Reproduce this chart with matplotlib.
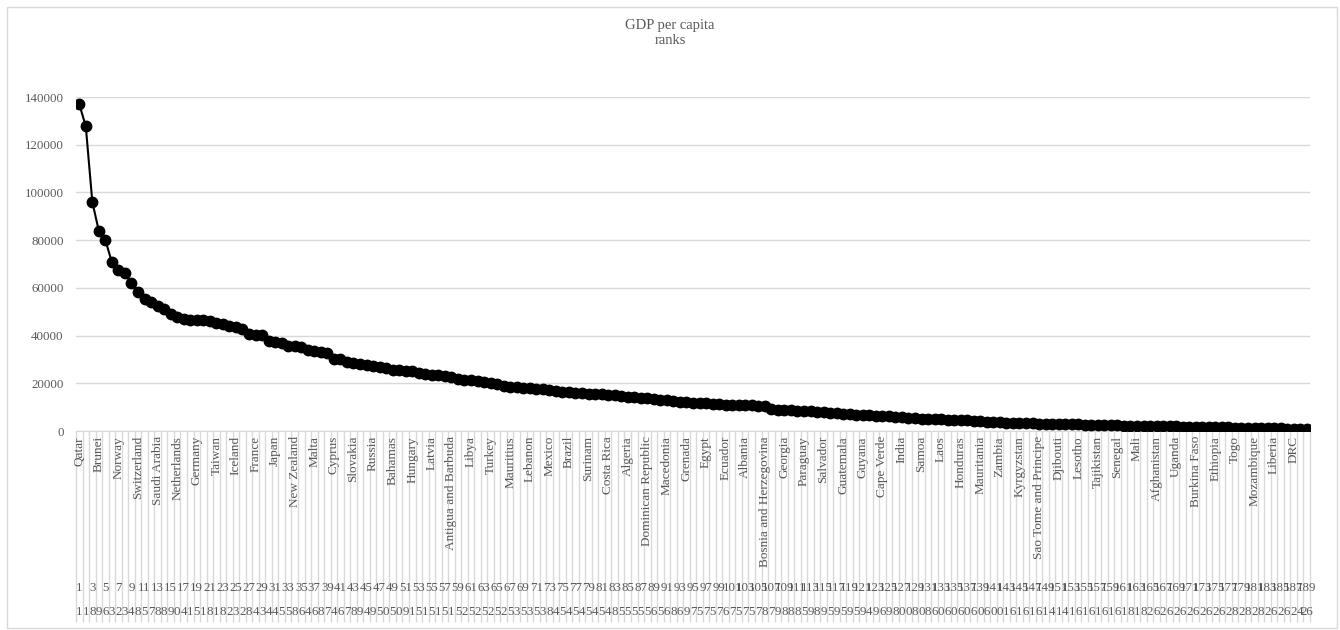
import matplotlib.pyplot as plt
import matplotlib.transforms as mtransforms
from matplotlib.patches import Rectangle

plt.rcParams['font.family'] = ['Liberation Serif', 'DejaVu Serif']

# GDP per capita, ordered by rank (1 = highest)
gdp = [137000, 127700, 96000, 83800, 80000, 70700, 67500, 66400, 61900, 58400,
       55200, 54200, 52400, 51300, 49100, 47900, 46900, 46600, 46500, 46500,
       46300, 45200, 44800, 44100, 43500, 42700, 40600, 40300, 40200, 37600,
       37300, 37000, 35800, 35500, 35300, 34100, 33400, 33200, 32900, 30300,
       30000, 29000, 28500, 28100, 27800, 27300, 26700, 26300, 25600, 25400,
       25300, 25200, 24500, 23900, 23600, 23400, 23100, 22700, 22000, 21500,
       21300, 21000, 20400, 20000, 19500, 18700, 18500, 18300, 18200, 18000,
       17700, 17400, 17100, 16700, 16500, 16300, 16100, 15900, 15700, 15500,
       15400, 15200, 14900, 14600, 14300, 14100, 13900, 13700, 13400, 13200,
       13000, 12600, 12300, 12100, 11900, 11800, 11600, 11400, 11200, 11100,
       11000, 10900, 10800, 10700, 10600, 10400, 9300, 9000, 8900, 8700,
       8500, 8300, 8200, 8000, 7900, 7700, 7500, 7300, 7100, 6900,
       6800, 6600, 6400, 6200, 6100, 5900, 5800, 5600, 5400, 5200,
       5100, 5000, 4900, 4800, 4700, 4600, 4500, 4300, 4100, 3900,
       3700, 3600, 3500, 3400, 3300, 3200, 3150, 3100, 3000, 2950,
       2900, 2850, 2800, 2750, 2700, 2600, 2500, 2450, 2400, 2350,
       2300, 2250, 2200, 2150, 2100, 2050, 2000, 1950, 1900, 1850,
       1800, 1750, 1700, 1650, 1600, 1550, 1500, 1450, 1400, 1350,
       1300, 1250, 1200, 1150, 1100, 1000, 950, 850, 750]
ranks = list(range(1, len(gdp) + 1))

# country names shown on the axis (every third rank: 1, 4, 7, ...)
countries = ['Qatar', 'Brunei', 'Norway', 'Switzerland', 'Saudi Arabia',
             'Netherlands', 'Germany', 'Taiwan', 'Iceland', 'France', 'Japan',
             'New Zealand', 'Malta', 'Cyprus', 'Slovakia', 'Russia', 'Bahamas',
             'Hungary', 'Latvia', 'Antigua and Barbuda', 'Libya', 'Turkey',
             'Mauritius', 'Lebanon', 'Mexico', 'Brazil', 'Surinam', 'Costa Rica',
             'Algeria', 'Dominican Republic', 'Macedonia', 'Grenada', 'Egypt',
             'Ecuador', 'Albania', 'Bosnia and Herzegovina', 'Georgia',
             'Paraguay', 'Salvador', 'Guatemala', 'Guyana', 'Cape Verde', 'India',
             'Samoa', 'Laos', 'Honduras', 'Mauritania', 'Zambia', 'Kyrgyzstan',
             'Sao Tome and Principe', 'Djibouti', 'Lesotho', 'Tajikistan',
             'Senegal', 'Mali', 'Afghanistan', 'Uganda', 'Burkina Faso',
             'Ethiopia', 'Togo', 'Mozambique', 'Liberia', 'DRC']

# outer category level, one label per rank
outer_digits = ("1189632348" "5788904151" "8182328434" "4558646874" "678949"
                "5050915151" "5152525252" "5353538454" "5454548555" "55"
                "6568697575" "7675757879" "8885989595" "9594969800" "808"
                "6060606060" "0161616141" "4161616161" "8182626262" "6262628282"
                "8262624")
outer_labels = list(outer_digits) + ['26']

W, H = 1340, 630
fig = plt.figure(figsize=(W / 100, H / 100), dpi=100)
fig.patches.append(Rectangle((7 / W, 2 / H), 1330 / W, 621 / H, transform=fig.transFigure,
                             fill=False, edgecolor='#d9d9d9', linewidth=1))

x0, x1, y0, y1 = 76, 1310, 431, 97
ax = fig.add_axes([x0 / W, 1 - y0 / H, (x1 - x0) / W, (y0 - y1) / H])

ax.plot(ranks, gdp, color='black', linewidth=1.5, marker='o', markersize=7.5, zorder=3)

ax.set_xlim(0.5, len(ranks) + 0.5)
ax.set_ylim(0, 140000)
ax.set_yticks(range(0, 140001, 20000))
ax.tick_params(axis='y', length=0, pad=9, labelsize=9.3, labelcolor='#595959')
ax.set_xticks([])
ax.grid(axis='y', color='#d9d9d9', linewidth=1)
ax.set_axisbelow(True)
for s in ['left', 'right', 'top']:
    ax.spines[s].set_visible(False)
ax.spines['bottom'].set_color('#d9d9d9')

fig.text(0.5, 1 - 33 / H, 'GDP per capita\nranks', ha='center', va='center',
         fontsize=10.5, color='#595959', linespacing=1.15)

trans = mtransforms.blended_transform_factory(ax.transData, fig.transFigure)

# category separators below the axis
ax.vlines([r - 0.5 for r in ranks] + [len(ranks) + 0.5], 1 - 431 / H, 1 - 622 / H,
          transform=trans, color='#d9d9d9', linewidth=1, clip_on=False)

for name, r in zip(countries, ranks[::3]):
    ax.text(r, 1 - 436 / H, name, transform=trans, rotation=90, ha='center', va='top',
            fontsize=9.5, color='#595959', clip_on=False)

for r in ranks[::2]:
    ax.text(r, 1 - 588 / H, str(r), transform=trans, ha='center', va='center',
            fontsize=9.3, color='#595959', clip_on=False)

for lab, r in zip(outer_labels, ranks):
    ax.text(r, 1 - 612 / H, lab, transform=trans, ha='center', va='center',
            fontsize=9.3, color='#595959', clip_on=False)

fig.savefig('out.png', dpi=100)
